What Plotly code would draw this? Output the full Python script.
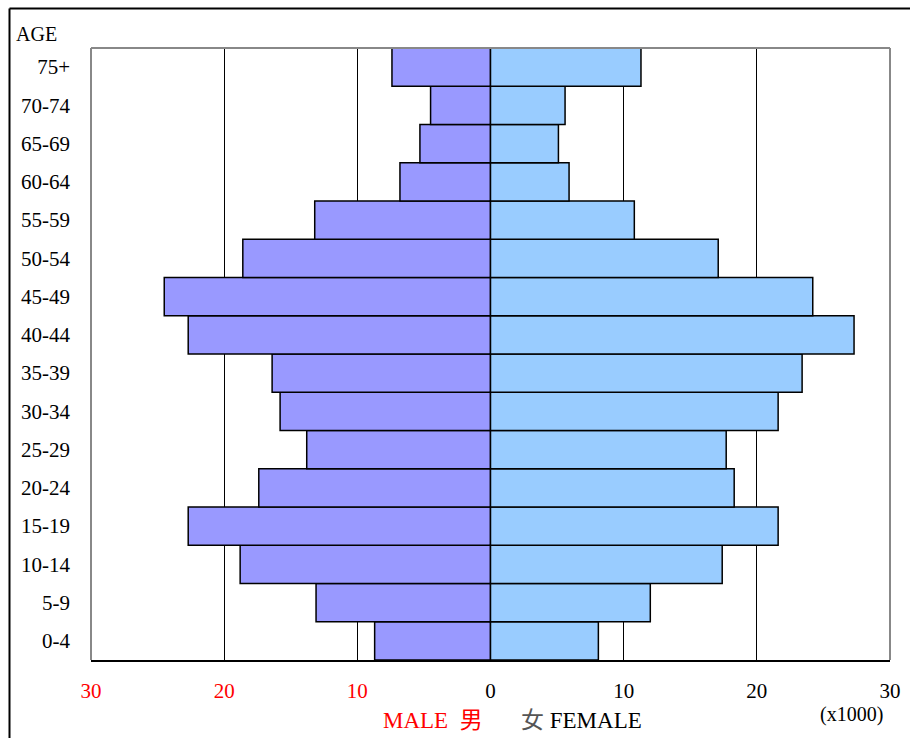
import plotly.graph_objects as go

ages = ["0-4", "5-9", "10-14", "15-19", "20-24", "25-29", "30-34", "35-39",
        "40-44", "45-49", "50-54", "55-59", "60-64", "65-69", "70-74", "75+"]
male = [8.7, 13.1, 18.8, 22.7, 17.4, 13.8, 15.8, 16.4,
        22.7, 24.5, 18.6, 13.2, 6.8, 5.3, 4.5, 7.4]
female = [8.1, 12.0, 17.4, 21.6, 18.3, 17.7, 21.6, 23.4,
          27.3, 24.2, 17.1, 10.8, 5.9, 5.1, 5.6, 11.3]
tick_vals = [-30, -20, -10, 0, 10, 20, 30]
tick_text = ["<span style='color:red'>30</span>", "<span style='color:red'>20</span>",
             "<span style='color:red'>10</span>", "0", "10", "20", "30"]

SERIF = "Liberation Serif, Times New Roman, serif"
PW, PH = 799, 612  # plot area size in px


def px(x):  # page x -> paper x
    return (x - 91) / PW


def py(y):  # page y -> paper y
    return (660 - y) / PH


fig = go.Figure()
fig.add_trace(go.Bar(y=ages, x=[-v for v in male], orientation="h",
                     marker=dict(color="#9999FF", line=dict(color="black", width=1.5)),
                     name="Male", showlegend=False))
fig.add_trace(go.Bar(y=ages, x=female, orientation="h",
                     marker=dict(color="#99CCFF", line=dict(color="black", width=1.5)),
                     name="Female", showlegend=False))

fig.update_layout(
    width=910, height=738,
    margin=dict(l=91, r=20, t=48, b=78),
    paper_bgcolor="white", plot_bgcolor="white",
    barmode="relative", bargap=0,
    font=dict(family=SERIF, size=21, color="black"),
    xaxis=dict(range=[-30, 30], tickvals=tick_vals, ticktext=tick_text,
               showgrid=True, gridcolor="black", gridwidth=1, zeroline=False,
               showline=True, linecolor="black", linewidth=2, ticks="",
               ticklabelstandoff=11, fixedrange=True, automargin=False),
    yaxis=dict(range=[-0.5, 15.5], showgrid=False, zeroline=False, ticks="",
               ticklabelstandoff=20, fixedrange=True, automargin=False),
    shapes=[
        dict(type="line", xref="paper", yref="paper", x0=0, x1=0, y0=0, y1=1,
             line=dict(color="#888888", width=2)),
        dict(type="line", xref="paper", yref="paper", x0=0, x1=1, y0=1, y1=1,
             line=dict(color="#888888", width=2)),
        dict(type="line", xref="paper", yref="paper", x0=1, x1=1, y0=0, y1=1,
             line=dict(color="#888888", width=2)),
        # outer frame: left and top lines
        dict(type="line", xref="paper", yref="paper",
             x0=px(9.5), x1=px(9.5), y0=py(740), y1=py(8.5),
             line=dict(color="black", width=2)),
        dict(type="line", xref="paper", yref="paper",
             x0=px(9.5), x1=px(912), y0=py(8.5), y1=py(8.5),
             line=dict(color="black", width=2)),
    ],
    annotations=[
        dict(text="AGE", xref="paper", yref="paper", x=px(14), y=py(34),
             xanchor="left", yanchor="middle", showarrow=False,
             font=dict(family=SERIF, size=20)),
        dict(text="MALE&nbsp;&nbsp;男", xref="paper", yref="paper", x=px(433), y=py(720),
             xanchor="center", yanchor="middle", showarrow=False,
             font=dict(family=SERIF + ", Noto Sans CJK SC", size=23, color="red")),
        dict(text="<span style='color:#555'>女</span>&nbsp;FEMALE", xref="paper", yref="paper",
             x=px(519), y=py(720), xanchor="left", yanchor="middle", showarrow=False,
             font=dict(family=SERIF + ", Noto Sans CJK SC", size=23, color="black")),
        dict(text="(x1000)", xref="paper", yref="paper", x=px(851), y=py(715),
             xanchor="center", yanchor="middle", showarrow=False,
             font=dict(family=SERIF, size=20)),
    ],
)

fig.write_html("out.html", config={"displayModeBar": False, "staticPlot": True},
               post_script="document.body.style.margin='0';document.body.style.overflow='hidden';")
